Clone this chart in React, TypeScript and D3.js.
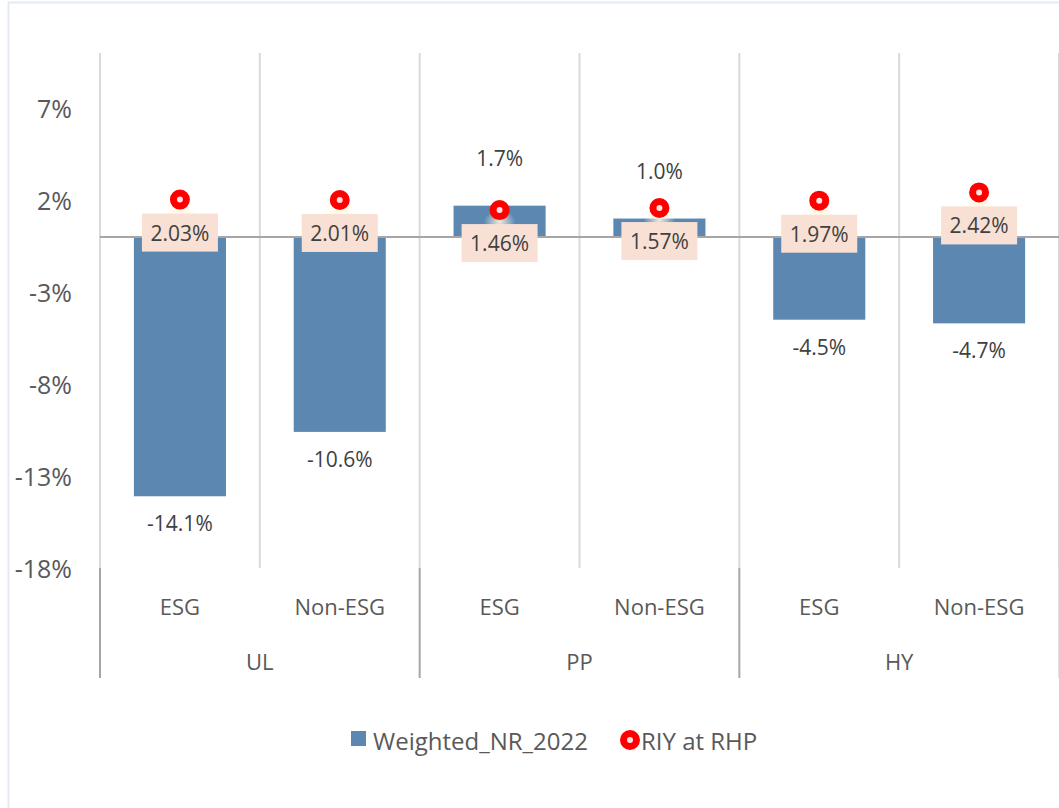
import React from 'react'
import * as d3 from 'd3'

const categories = ['ESG', 'Non-ESG', 'ESG', 'Non-ESG', 'ESG', 'Non-ESG']
const groups = ['UL', 'PP', 'HY']
const weightedNR = [-14.1, -10.6, 1.7, 1.0, -4.5, -4.7]
const riyAtRhp = [2.03, 2.01, 1.46, 1.57, 1.97, 2.42]
const yTicks = [-18, -13, -8, -3, 2, 7]

const W = 1059
const H = 808
const FONT = '"Open Sans", "Noto Sans", sans-serif'

const App = () => {
  const margin = { top: 53, right: 0, bottom: 240, left: 100 }
  const plotBottom = H - margin.bottom

  const x = d3
    .scaleBand<number>()
    .domain(d3.range(categories.length))
    .range([margin.left, W])
    .paddingInner(0.424)
    .paddingOuter(0.212)
  const step = x.step()
  const slot = (i: number) => margin.left + i * step

  const y = d3.scaleLinear().domain([-18, 10]).range([plotBottom, margin.top])

  return (
    <svg
      width={W}
      height={H}
      style={{ position: 'absolute', left: 0, top: 0, fontFamily: FONT }}
    >
      <defs>
        <radialGradient id="glow">
          <stop offset="0%" stopColor="#fff6e0" stopOpacity={0.9} />
          <stop offset="100%" stopColor="#fff6e0" stopOpacity={0} />
        </radialGradient>
      </defs>
      <rect x={0} y={0} width={W} height={H} fill="#fff" />
      {/* chart frame */}
      <rect x={8.5} y={2.5} width={W + 10} height={H + 10} fill="none" stroke="#e3eaf3" strokeWidth={2} />

      {/* vertical gridlines */}
      {d3.range(categories.length + 1).map((i) => (
        <line
          key={'g' + i}
          x1={slot(i)}
          x2={slot(i)}
          y1={margin.top}
          y2={plotBottom}
          stroke="#d9d9d9"
          strokeWidth={2}
        />
      ))}

      {/* y tick labels */}
      {yTicks.map((t) => (
        <text
          key={'t' + t}
          x={72}
          y={y(t)}
          textAnchor="end"
          dominantBaseline="central"
          fontSize={25}
          fill="#595959"
        >
          {t}%
        </text>
      ))}

      {/* bars */}
      {weightedNR.map((v, i) => (
        <rect
          key={'b' + i}
          x={x(i)}
          width={x.bandwidth()}
          y={y(Math.max(0, v))}
          height={Math.abs(y(v) - y(0))}
          fill="#5b87b1"
        />
      ))}

      {/* zero line */}
      <line x1={margin.left} x2={W} y1={y(0)} y2={y(0)} stroke="#a6a6a6" strokeWidth={2} />

      {/* bar labels */}
      {weightedNR.map((v, i) => (
        <text
          key={'bl' + i}
          x={x(i)! + x.bandwidth() / 2}
          y={v < 0 ? y(v) + 27 : y(v) - 48}
          textAnchor="middle"
          dominantBaseline="central"
          fontSize={21}
          fill="#404040"
        >
          {v.toFixed(1)}%
        </text>
      ))}

      {/* RIY markers and labels */}
      {riyAtRhp.map((v, i) => {
        const cx = x(i)! + x.bandwidth() / 2
        const cy = y(v)
        return (
          <g key={'r' + i}>
            <ellipse cx={cx} cy={cy + 12} rx={16} ry={12} fill="url(#glow)" />
            <circle cx={cx} cy={cy} r={6.5} fill="#ffe2e2" stroke="#ff0000" strokeWidth={7} />
            <rect x={cx - 38} y={cy + 14} width={76} height={38} fill="#f8e0d4" />
            <text
              x={cx}
              y={cy + 33}
              textAnchor="middle"
              dominantBaseline="central"
              fontSize={21}
              fill="#404040"
            >
              {v.toFixed(2)}%
            </text>
          </g>
        )
      })}

      {/* category axis */}
      {categories.map((c, i) => (
        <text
          key={'c' + i}
          x={x(i)! + x.bandwidth() / 2}
          y={606}
          textAnchor="middle"
          dominantBaseline="central"
          fontSize={22}
          fill="#595959"
        >
          {c}
        </text>
      ))}
      {d3.range(groups.length + 1).map((k) => (
        <line
          key={'gs' + k}
          x1={slot(k * 2)}
          x2={slot(k * 2)}
          y1={plotBottom}
          y2={678}
          stroke={k === groups.length ? '#e0e0e0' : '#a6a6a6'}
          strokeWidth={2}
        />
      ))}
      {groups.map((g, k) => (
        <text
          key={'gl' + k}
          x={slot(k * 2 + 1)}
          y={661}
          textAnchor="middle"
          dominantBaseline="central"
          fontSize={22}
          fill="#595959"
        >
          {g}
        </text>
      ))}

      {/* legend */}
      <rect x={351} y={731} width={15} height={15} fill="#5b87b1" />
      <text x={373} y={740} dominantBaseline="central" fontSize={24} fill="#595959">
        Weighted_NR_2022
      </text>
      <circle cx={630} cy={740} r={6.5} fill="#ffe2e2" stroke="#ff0000" strokeWidth={7} />
      <text x={641} y={740} dominantBaseline="central" fontSize={24} fill="#595959">
        RIY at RHP
      </text>
    </svg>
  )
}

export default App
